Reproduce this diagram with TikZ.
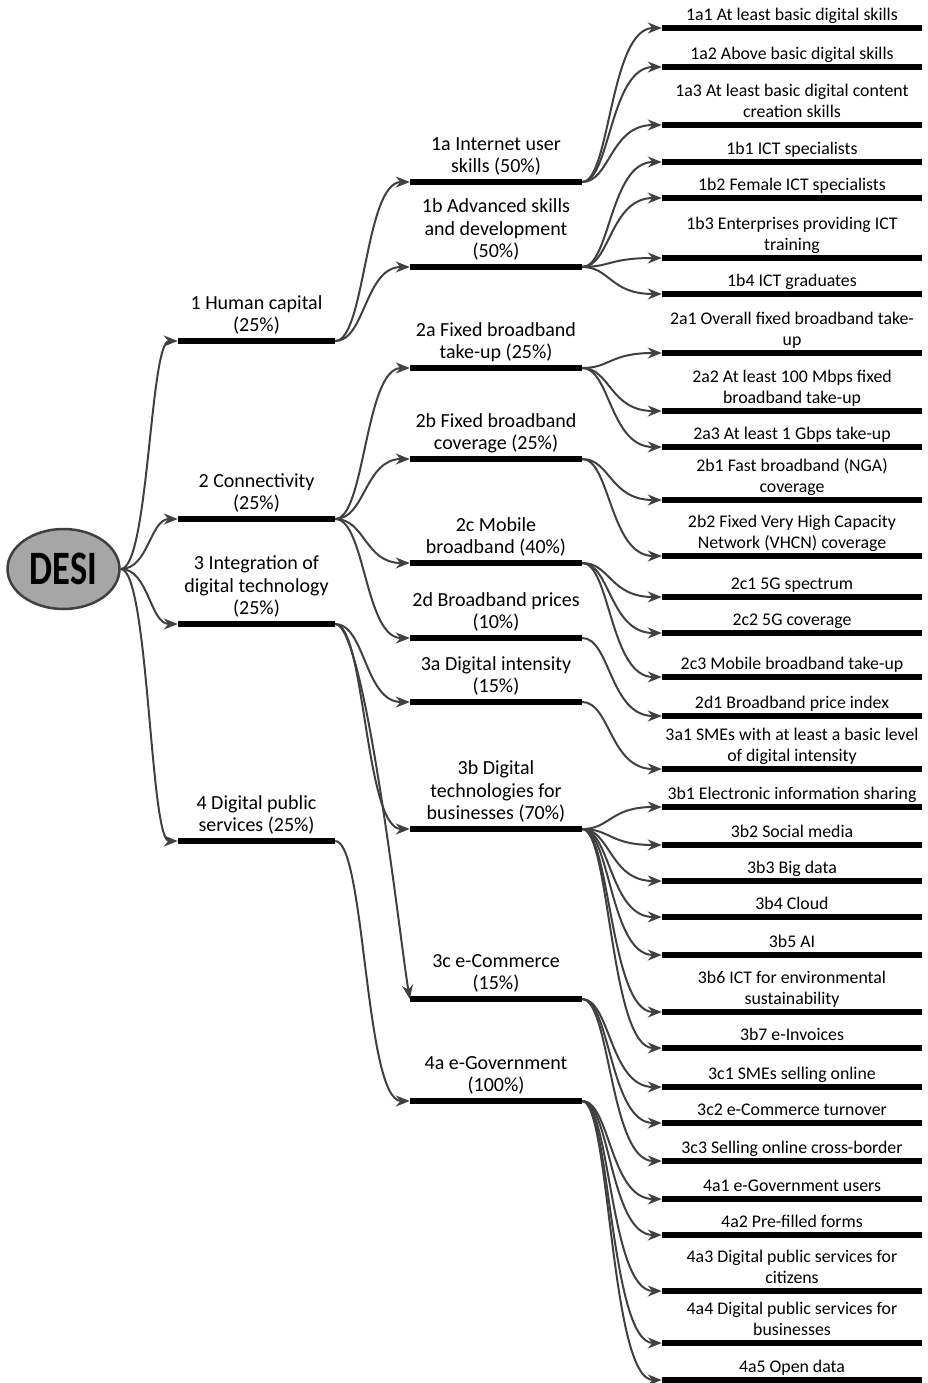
\documentclass[tikz,border=0pt]{standalone}
\usepackage{fontspec}
\setmainfont{Carlito}
\usetikzlibrary{shapes.geometric,arrows.meta}
\definecolor{lnkgray}{HTML}{404040}
\definecolor{desigray}{HTML}{A6A6A6}

\begin{document}
\begin{tikzpicture}[x=1pt,y=-1pt]
  \tikzstyle{bar}=[fill=black, inner sep=0pt, minimum height=6pt]
  \tikzstyle{lone}=[bar, minimum width=157pt]
  \tikzstyle{ltwo}=[bar, minimum width=172pt]
  \tikzstyle{lthree}=[bar, minimum width=260pt]
  \tikzstyle{tbig}=[inner sep=0pt, align=center, text depth=0pt, yshift=6pt, font=\fontsize{20}{22.5}\selectfont]
  \tikzstyle{tsmall}=[inner sep=0pt, align=center, text depth=0pt, yshift=4.5pt, font=\fontsize{17.8}{20.5}\selectfont]
  \tikzstyle{lnk}=[draw=lnkgray, line width=2pt, -{Stealth[length=14pt,width=11pt]}, out=0, in=180]
  \useasboundingbox (0,0) rectangle (928,1383);

  % root
  \node[ellipse, draw=lnkgray, line width=2.5pt, fill=desigray, minimum width=112pt, minimum height=80pt, inner sep=0pt] (desi) at (63.5,569) {\scalebox{0.76}[1]{\fontsize{48}{50}\selectfont\bfseries DESI}};

  % dimensions
  \node[lone, label={[tbig]above:{1 Human capital\\(25\%)}}] (d1) at (256.5,341) {};
  \node[lone, label={[tbig]above:{2 Connectivity\\(25\%)}}] (d2) at (256.5,519) {};
  \node[lone, label={[tbig]above:{3 Integration of\\digital technology\\(25\%)}}] (d3) at (256.5,624) {};
  \node[lone, label={[tbig]above:{4 Digital public\\services (25\%)}}] (d4) at (256.5,841) {};

  % sub-dimensions
  \node[ltwo, label={[tbig]above:{1a Internet user\\skills (50\%)}}] (s1a) at (496,182) {};
  \node[ltwo, label={[tbig]above:{1b Advanced skills\\and development\\(50\%)}}] (s1b) at (496,267) {};
  \node[ltwo, label={[tbig]above:{2a Fixed broadband\\take-up (25\%)}}] (s2a) at (496,368) {};
  \node[ltwo, label={[tbig]above:{2b Fixed broadband\\coverage (25\%)}}] (s2b) at (496,459) {};
  \node[ltwo, label={[tbig]above:{2c Mobile\\broadband (40\%)}}] (s2c) at (496,563) {};
  \node[ltwo, label={[tbig]above:{2d Broadband prices\\(10\%)}}] (s2d) at (496,638) {};
  \node[ltwo, label={[tbig]above:{3a Digital intensity\\(15\%)}}] (s3a) at (496,702) {};
  \node[ltwo, label={[tbig]above:{3b Digital\\technologies for\\businesses (70\%)}}] (s3b) at (496,829) {};
  \node[ltwo, label={[tbig]above:{3c e-Commerce\\(15\%)}}] (s3c) at (496,999) {};
  \node[ltwo, label={[tbig]above:{4a e-Government\\(100\%)}}] (s4a) at (496,1101) {};

  % indicators
  \node[lthree, label={[tsmall]above:{1a1 At least basic digital skills}}] (k1a1) at (792,28) {};
  \node[lthree, label={[tsmall]above:{1a2 Above basic digital skills}}] (k1a2) at (792,67) {};
  \node[lthree, label={[tsmall]above:{1a3 At least basic digital content\\creation skills}}] (k1a3) at (792,125) {};
  \node[lthree, label={[tsmall]above:{1b1 ICT specialists}}] (k1b1) at (792,162) {};
  \node[lthree, label={[tsmall]above:{1b2 Female ICT specialists}}] (k1b2) at (792,198) {};
  \node[lthree, label={[tsmall]above:{1b3 Enterprises providing ICT\\training}}] (k1b3) at (792,258) {};
  \node[lthree, label={[tsmall]above:{1b4 ICT graduates}}] (k1b4) at (792,294) {};
  \node[lthree, label={[tsmall]above:{2a1 Overall fixed broadband take-\\up}}] (k2a1) at (792,353) {};
  \node[lthree, label={[tsmall]above:{2a2 At least 100 Mbps fixed\\broadband take-up}}] (k2a2) at (792,411) {};
  \node[lthree, label={[tsmall]above:{2a3 At least 1 Gbps take-up}}] (k2a3) at (792,447) {};
  \node[lthree, label={[tsmall]above:{2b1 Fast broadband (NGA)\\coverage}}] (k2b1) at (792,500) {};
  \node[lthree, label={[tsmall]above:{2b2 Fixed Very High Capacity\\Network (VHCN) coverage}}] (k2b2) at (792,556) {};
  \node[lthree, label={[tsmall]above:{2c1 5G spectrum}}] (k2c1) at (792,597) {};
  \node[lthree, label={[tsmall]above:{2c2 5G coverage}}] (k2c2) at (792,633) {};
  \node[lthree, label={[tsmall]above:{2c3 Mobile broadband take-up}}] (k2c3) at (792,677) {};
  \node[lthree, label={[tsmall]above:{2d1 Broadband price index}}] (k2d1) at (792,716) {};
  \node[lthree, label={[tsmall]above:{3a1 SMEs with at least a basic level\\of digital intensity}}] (k3a1) at (792,769) {};
  \node[lthree, label={[tsmall]above:{3b1 Electronic information sharing}}] (k3b1) at (792,807) {};
  \node[lthree, label={[tsmall]above:{3b2 Social media}}] (k3b2) at (792,845) {};
  \node[lthree, label={[tsmall]above:{3b3 Big data}}] (k3b3) at (792,881) {};
  \node[lthree, label={[tsmall]above:{3b4 Cloud}}] (k3b4) at (792,917) {};
  \node[lthree, label={[tsmall]above:{3b5 AI}}] (k3b5) at (792,955) {};
  \node[lthree, label={[tsmall]above:{3b6 ICT for environmental\\sustainability}}] (k3b6) at (792,1012) {};
  \node[lthree, label={[tsmall]above:{3b7 e-Invoices}}] (k3b7) at (792,1048) {};
  \node[lthree, label={[tsmall]above:{3c1 SMEs selling online}}] (k3c1) at (792,1087) {};
  \node[lthree, label={[tsmall]above:{3c2 e-Commerce turnover}}] (k3c2) at (792,1123) {};
  \node[lthree, label={[tsmall]above:{3c3 Selling online cross-border}}] (k3c3) at (792,1161) {};
  \node[lthree, label={[tsmall]above:{4a1 e-Government users}}] (k4a1) at (792,1199) {};
  \node[lthree, label={[tsmall]above:{4a2 Pre-filled forms}}] (k4a2) at (792,1235) {};
  \node[lthree, label={[tsmall]above:{4a3 Digital public services for\\citizens}}] (k4a3) at (792,1291) {};
  \node[lthree, label={[tsmall]above:{4a4 Digital public services for\\businesses}}] (k4a4) at (792,1343) {};
  \node[lthree, label={[tsmall]above:{4a5 Open data}}] (k4a5) at (792,1380) {};

  % links
  \foreach \t in {d1,d2,d3,d4}
    \draw[lnk, out distance=28pt, in distance=28pt] (desi.east) to (\t.west);
  \foreach \f/\t in {d1/s1a, d1/s1b, d2/s2a, d2/s2b, d2/s2c, d2/s2d, d3/s3a, d3/s3b, d4/s4a}
    \draw[lnk, out distance=30pt, in distance=45pt] (\f.east) to (\t.west);
  \draw[lnk] (d3.east) .. controls +(30,0) and +(-10,-60) .. (s3c.west);
  \foreach \f/\t in {s1a/k1a1, s1a/k1a2, s1a/k1a3, s1b/k1b1, s1b/k1b2, s1b/k1b3, s1b/k1b4,
                     s2a/k2a1, s2a/k2a2, s2a/k2a3, s2b/k2b1, s2b/k2b2,
                     s2c/k2c1, s2c/k2c2, s2c/k2c3, s2d/k2d1, s3a/k3a1,
                     s3b/k3b1, s3b/k3b2, s3b/k3b3, s3b/k3b4, s3b/k3b5, s3b/k3b6, s3b/k3b7,
                     s3c/k3c1, s3c/k3c2, s3c/k3c3,
                     s4a/k4a1, s4a/k4a2, s4a/k4a3, s4a/k4a4, s4a/k4a5}
    \draw[lnk, out distance=28pt, in distance=52pt] (\f.east) to (\t.west);
\end{tikzpicture}
\end{document}
